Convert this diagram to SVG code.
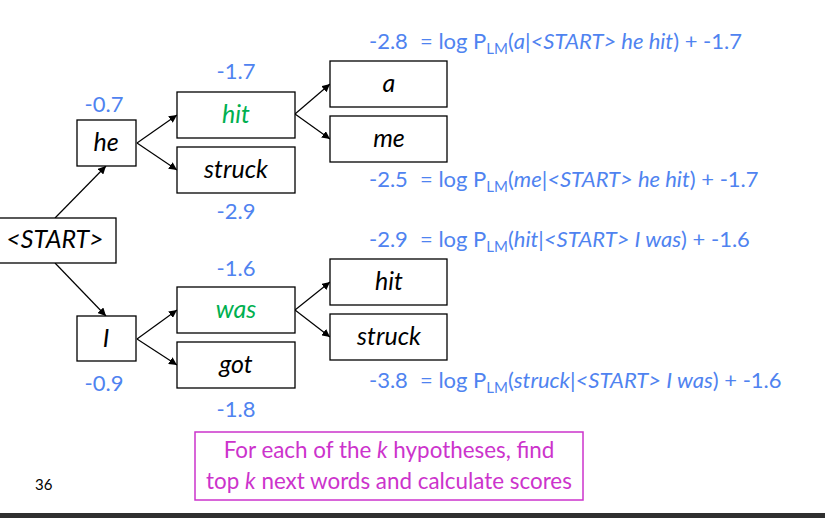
<svg xmlns="http://www.w3.org/2000/svg" width="825" height="518" viewBox="0 0 825 518">
<style>
.box{fill:#fff;stroke:#000;stroke-width:1.3}
.w{font-family:Lato,"Open Sans","Liberation Sans",sans-serif;font-style:italic;font-size:25px;fill:#000;text-anchor:middle}
.g{fill:#00b050}
.s{font-family:Lato,"Open Sans","Liberation Sans",sans-serif;font-size:22px;fill:#4f83f0}
.c{text-anchor:middle}
.i{font-style:italic}
.sub{font-size:15px}
.m{font-family:Lato,"Open Sans","Liberation Sans",sans-serif;font-size:22.4px;fill:#cc33cc;text-anchor:middle}
.edge{stroke:#000;stroke-width:1.2;fill:none;marker-end:url(#ah)}
</style>
<defs>
<marker id="ah" viewBox="0 0 10 10" refX="10" refY="5" markerWidth="8" markerHeight="8" markerUnits="userSpaceOnUse" orient="auto">
<path d="M0,0L10,5L0,10z" fill="#000"/>
</marker>
</defs>
<rect width="825" height="518" fill="#fff"/>
<g id="connectors">
<line class="edge" x1="55" y1="218" x2="106" y2="166"/>
<line class="edge" x1="55" y1="263" x2="106" y2="316"/>
<line class="edge" x1="137" y1="143" x2="177" y2="115"/>
<line class="edge" x1="137" y1="143" x2="177" y2="170"/>
<line class="edge" x1="137" y1="339" x2="177" y2="310"/>
<line class="edge" x1="137" y1="339" x2="177" y2="365"/>
<line class="edge" x1="295" y1="114" x2="330" y2="84"/>
<line class="edge" x1="295" y1="114" x2="330" y2="139"/>
<line class="edge" x1="295" y1="310" x2="330" y2="282"/>
<line class="edge" x1="295" y1="310" x2="330" y2="337"/>
</g>
<g id="n-start"><rect class="box" x="-2" y="218" width="118" height="45"/><text class="w" x="55" y="248">&lt;START&gt;</text></g>
<g id="n-he"><rect class="box" x="77" y="120" width="59" height="46"/><text class="w" x="106" y="151">he</text></g>
<g id="n-I"><rect class="box" x="77" y="316" width="59" height="45"/><text class="w" x="106" y="347">I</text></g>
<g id="n-hit"><rect class="box" x="177" y="92" width="118" height="46"/><text class="w g" x="236" y="123">hit</text></g>
<g id="n-struck"><rect class="box" x="177" y="147" width="118" height="46"/><text class="w" x="236" y="178">struck</text></g>
<g id="n-was"><rect class="box" x="177" y="287" width="118" height="46"/><text class="w g" x="236" y="318">was</text></g>
<g id="n-got"><rect class="box" x="177" y="342" width="118" height="46"/><text class="w" x="236" y="373">got</text></g>
<g id="n-a"><rect class="box" x="330" y="61" width="117" height="46"/><text class="w" x="389" y="92">a</text></g>
<g id="n-me"><rect class="box" x="330" y="116" width="117" height="46"/><text class="w" x="389" y="147">me</text></g>
<g id="n-hit2"><rect class="box" x="330" y="259" width="117" height="46"/><text class="w" x="389" y="290">hit</text></g>
<g id="n-struck2"><rect class="box" x="330" y="314" width="117" height="46"/><text class="w" x="389" y="345">struck</text></g>
<g id="scores">
<text class="s c" x="104" y="112">-0.7</text>
<text class="s c" x="236" y="79">-1.7</text>
<text class="s c" x="236" y="219">-2.9</text>
<text class="s c" x="236" y="276">-1.6</text>
<text class="s c" x="104" y="391">-0.9</text>
<text class="s c" x="236" y="417">-1.8</text>
</g>
<g id="formulas">
<text class="s" x="369" y="49">-2.8</text>
<text class="s" x="420" y="49">= log P<tspan class="sub" dy="5">LM</tspan><tspan dy="-5">(</tspan><tspan class="i">a</tspan>|<tspan class="i">&lt;START&gt; he hit</tspan>) + -1.7</text>
<text class="s" x="369" y="187">-2.5</text>
<text class="s" x="420" y="187">= log P<tspan class="sub" dy="5">LM</tspan><tspan dy="-5">(</tspan><tspan class="i">me</tspan>|<tspan class="i">&lt;START&gt; he hit</tspan>) + -1.7</text>
<text class="s" x="369" y="247">-2.9</text>
<text class="s" x="420" y="247">= log P<tspan class="sub" dy="5">LM</tspan><tspan dy="-5">(</tspan><tspan class="i">hit</tspan>|<tspan class="i">&lt;START&gt; I was</tspan>) + -1.6</text>
<text class="s" x="369" y="388">-3.8</text>
<text class="s" x="420" y="388">= log P<tspan class="sub" dy="5">LM</tspan><tspan dy="-5">(</tspan><tspan class="i">struck</tspan>|<tspan class="i">&lt;START&gt; I was</tspan>) + -1.6</text>
</g>
<g id="note">
<rect x="195" y="432" width="388" height="68" fill="#fff" stroke="#cc33cc" stroke-width="1.5"/>
<text class="m" x="389" y="458">For each of the <tspan font-style="italic">k</tspan> hypotheses, find</text>
<text class="m" x="389" y="489">top <tspan font-style="italic">k</tspan> next words and calculate scores</text>
</g>
<text x="35" y="490" font-family="Lato,'Open Sans','Liberation Sans',sans-serif" font-size="15" fill="#000">36</text>
<rect x="0" y="513" width="825" height="5" fill="#2f2f2f"/>
</svg>
